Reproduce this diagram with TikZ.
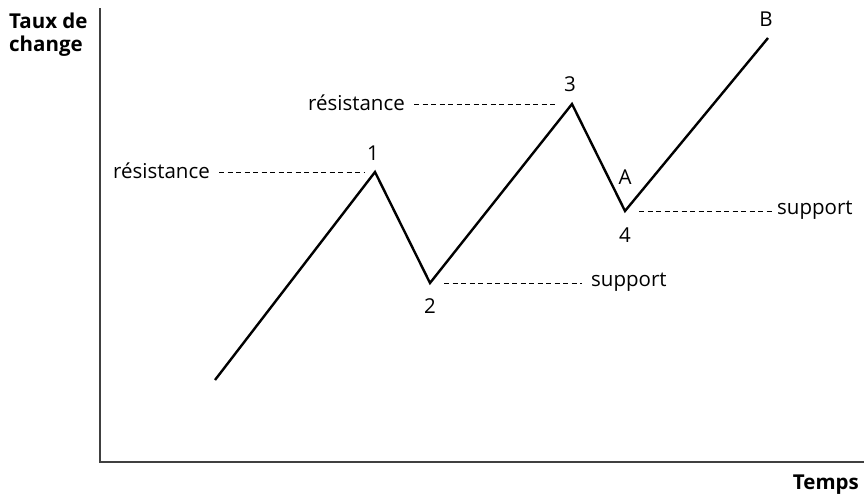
\documentclass[tikz,border=0pt]{standalone}
\usepackage{fontspec}
\setmainfont{Open Sans}
\usetikzlibrary{positioning}

\begin{document}
\begin{tikzpicture}[x=1pt,y=-1pt,font=\fontsize{20.5}{24}\selectfont]
\tikzset{
  wave/.style={line width=2.4pt,line join=miter},
  levelline/.style={dashed,line width=0.9pt,dash pattern=on 5pt off 3.5pt},
  axisline/.style={line width=1.4pt,color=black!75},
  lbl/.style={inner sep=1pt}
}
\useasboundingbox (0,0) rectangle (864,498);

\coordinate (p0) at (215,380);
\coordinate (p1) at (375,172);
\coordinate (p2) at (430,283);
\coordinate (p3) at (572,104);
\coordinate (p4) at (625,211);
\coordinate (p5) at (768,38);

\coordinate (ytop) at (100,8);
\coordinate (orig) at (100,462);
\coordinate (xend) at (864,462);

\draw[axisline] (ytop) -- (orig) -- (xend);
\draw[wave] (p0) -- (p1) -- (p2) -- (p3) -- (p4) -- (p5);

\node[lbl] (n1) at (373,153) {1};
\node[lbl] (n2) at (430,306) {2};
\node[lbl] (n3) at (570,84) {3};
\node[lbl] (n4) at (625,235) {4};
\node[lbl] (nA) at (625,177) {A};
\node[lbl] (nB) at (766,19) {B};

\node[lbl,anchor=east] (res1) at (211,171) {résistance};
\node[lbl,anchor=east] (res3) at (406,103) {résistance};
\node[lbl,anchor=west] (sup2) at (590,282) {support};
\node[lbl,anchor=west] (sup4) at (776,210) {support};

\draw[levelline] (res1.east |- p1) ++(8,0) -- ([xshift=-10pt]p1);
\draw[levelline] (res3.east |- p3) ++(8,0) -- ([xshift=-14pt]p3);
\draw[levelline] ([xshift=14pt]p2) -- ([xshift=-8pt]sup2.west |- p2);
\draw[levelline] ([xshift=14pt]p4) -- ([xshift=-4pt]sup4.west |- p4);

\node[font=\fontsize{20.5}{23}\selectfont\bfseries,align=left,anchor=north west,inner sep=0pt] (yl) at (9,13) {Taux de\\change};
\node[font=\fontsize{20.5}{24}\selectfont\bfseries,anchor=east,inner sep=0pt] (xl) at (859,485) {Temps};
\end{tikzpicture}
\end{document}
